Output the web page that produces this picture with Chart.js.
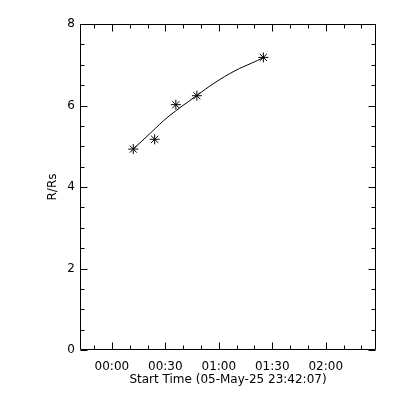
<!DOCTYPE html>
<html>
<head>
<meta charset="utf-8">
<script src="https://cdn.jsdelivr.net/npm/chart.js@4/dist/chart.umd.min.js"></script>
<style>
  html, body { margin: 0; padding: 0; background: #fff; }
</style>
</head>
<body>
<canvas id="heightTime" width="400" height="400"></canvas>
<script>
  // time in minutes after 00:00 UT, start time 23:42:07 is -17.88
  const obsTime   = [12.0, 24.0, 35.9, 47.7, 85.0];
  const obsHeight = [4.93, 5.17, 6.02, 6.24, 7.18];

  // fitted curve
  const fitTime   = [12.0, 21.8, 31.5, 47.5, 57.8, 69.0, 78.4, 84.9];
  const fitHeight = [4.93, 5.33, 5.72, 6.24, 6.56, 6.85, 7.04, 7.17];

  const xTicks = [0, 30, 60, 90, 120];
  const yTicks = [0, 2, 4, 6, 8];
  const xMin = -17.88, xMax = 148.2;

  const font = { family: 'DejaVu Sans', size: 12 };

  function hhmm(v) {
      let m = Math.round(v);
      let h = Math.floor(m / 60);
      m = m - h * 60;
      return String(h).padStart(2, '0') + ':' + String(m).padStart(2, '0');
  }

  //IDL STYLE FRAME WITH INWARD TICKS ON ALL SIDES
  const idlFrame = {
      id: 'idlFrame',
      afterDraw(chart) {
          const ctx = chart.ctx;
          const a = chart.chartArea;
          const x = chart.scales.x, y = chart.scales.y;
          const L = Math.round(a.left) + 0.5, R = Math.round(a.right) - 0.5;
          const T = Math.round(a.top) + 0.5, B = Math.round(a.bottom) - 0.5;
          ctx.save();
          ctx.strokeStyle = '#000';
          ctx.lineWidth = 1;
          ctx.beginPath();
          ctx.rect(L, T, R - L, B - T);

          for (let v = Math.ceil(xMin / 10) * 10; v <= xMax; v += 10) {
              let px = Math.round(x.getPixelForValue(v)) + 0.5;
              let len = (v % 30 === 0) ? 7 : 4;
              ctx.moveTo(px, B); ctx.lineTo(px, B - len);
              ctx.moveTo(px, T); ctx.lineTo(px, T + len);
          }
          for (let v = 0; v <= 8; v += 0.5) {
              let py = Math.round(y.getPixelForValue(v)) + 0.5;
              let len = (v % 2 === 0) ? 7 : 4;
              ctx.moveTo(L, py); ctx.lineTo(L + len, py);
              ctx.moveTo(R, py); ctx.lineTo(R - len, py);
          }
          ctx.stroke();
          ctx.restore();
      }
  };

  new Chart(document.getElementById('heightTime'), {
      type: 'scatter',
      data: {
          datasets: [{
              type: 'line',
              data: fitTime.map((t, i) => ({ x: t, y: fitHeight[i] })),
              borderColor: '#000',
              borderWidth: 1,
              pointRadius: 0,
              tension: 0.4,
              fill: false
          }, {
              data: obsTime.map((t, i) => ({ x: t, y: obsHeight[i] })),
              pointStyle: 'star',
              pointRadius: 5,
              borderColor: '#000',
              backgroundColor: '#000',
              borderWidth: 1
          }]
      },
      options: {
          responsive: false,
          animation: false,
          events: [],
          layout: { padding: { left: 40, top: 24, right: 24, bottom: 10 } },
          plugins: { legend: { display: false }, tooltip: { enabled: false } },
          scales: {
              x: {
                  type: 'linear',
                  min: xMin,
                  max: xMax,
                  grid: { display: false, drawTicks: false },
                  border: { display: false },
                  afterBuildTicks: s => { s.ticks = xTicks.map(v => ({ value: v })); },
                  afterFit: s => { s.height = 40; },
                  ticks: {
                      color: '#000', font: font, padding: 10, maxRotation: 0,
                      autoSkip: false, callback: v => hhmm(v)
                  },
                  title: {
                      display: true, text: 'Start Time (05-May-25 23:42:07)',
                      color: '#000', font: font, padding: { top: 0, bottom: 3 }
                  }
              },
              y: {
                  min: 0,
                  max: 8,
                  grid: { display: false, drawTicks: false },
                  border: { display: false },
                  afterBuildTicks: s => { s.ticks = yTicks.map(v => ({ value: v })); },
                  afterFit: s => { s.width = 40; },
                  ticks: { color: '#000', font: font, padding: 5 },
                  title: {
                      display: true, text: 'R/Rs', color: '#000', font: font,
                      padding: { top: 6, bottom: 0 }
                  }
              }
          }
      },
      plugins: [idlFrame]
  });
</script>
</body>
</html>
